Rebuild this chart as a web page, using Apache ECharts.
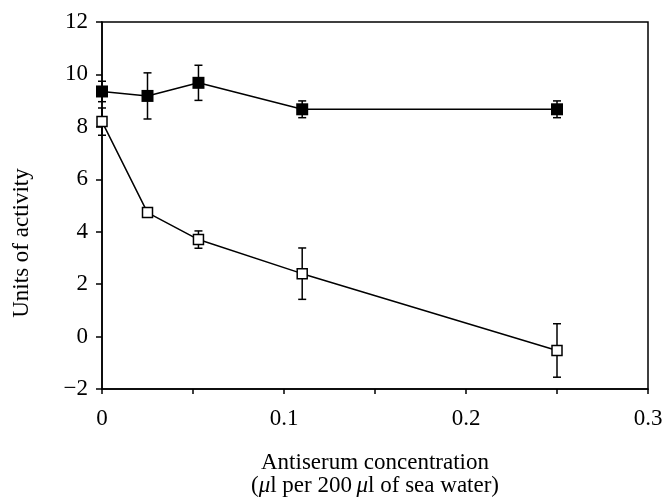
<!DOCTYPE html>
<html>
<head>
<meta charset="utf-8">
<script src="https://cdn.jsdelivr.net/npm/echarts@6/dist/echarts.min.js"></script>
<style>html,body{margin:0;padding:0;background:#fff}#c{width:664px;height:498px}</style>
</head>
<body>
<div id="c"></div>
<script>
const concentrations = [0, 0.025, 0.053, 0.11, 0.25];
const filledValues = [9.35, 9.18, 9.68, 8.67, 8.67];
const filledErrors = [0.39, 0.88, 0.67, 0.32, 0.32];
const openValues = [8.2, 4.73, 3.70, 2.40, -0.53];
const openErrors = [0.52, 0, 0.33, 0.98, 1.02];
const xTickLabels = ['0', '0.1', '0.2', '0.3'];
const yTickLabels = ['−2', '0', '2', '4', '6', '8', '10', '12'];
const yTitle = 'Units of activity';

const FONT = 'Liberation Serif';
const chart = echarts.init(document.getElementById('c'), null, {renderer: 'canvas'});

function errData(vals, errs) {
  return concentrations.map((x, i) => [x, vals[i] - errs[i], vals[i] + errs[i]]);
}
function errSeries(vals, errs) {
  return {
    type: 'custom',
    data: errData(vals, errs),
    z: 1,
    silent: true,
    renderItem: function (params, api) {
      const x = api.value(0), lo = api.value(1), hi = api.value(2);
      if (hi - lo < 1e-9) return null;
      const p1 = api.coord([x, lo]);
      const p2 = api.coord([x, hi]);
      const w = 4;
      const st = {stroke: '#000', lineWidth: 1.5};
      return {
        type: 'group',
        children: [
          {type: 'line', shape: {x1: p1[0], y1: p1[1], x2: p2[0], y2: p2[1]}, style: st},
          {type: 'line', shape: {x1: p1[0] - w, y1: p1[1], x2: p1[0] + w, y2: p1[1]}, style: st},
          {type: 'line', shape: {x1: p2[0] - w, y1: p2[1], x2: p2[0] + w, y2: p2[1]}, style: st}
        ]
      };
    }
  };
}

chart.setOption({
  animation: false,
  backgroundColor: '#fff',
  grid: {left: 102, right: 16, top: 22, bottom: 109, containLabel: false, outerBoundsMode: 'none',
         show: true, borderColor: '#000', borderWidth: 1.5, backgroundColor: 'transparent'},
  xAxis: {
    type: 'value', min: 0, max: 0.3, interval: 0.05,
    axisLine: {show: true, onZero: false, lineStyle: {color: '#000', width: 1.5}},
    axisTick: {show: true, inside: false, length: 5, lineStyle: {color: '#000', width: 1.5}},
    splitLine: {show: false},
    axisLabel: {
      color: '#000', fontFamily: FONT, fontSize: 23, margin: 18,
      formatter: function (v) {
        const k = Math.round(v * 10);
        if (Math.abs(v * 10 - k) > 1e-6) return '';
        return xTickLabels[k] !== undefined ? xTickLabels[k] : '';
      }
    },
    name: 'Antiserum concentration\n({i|μ}l per 200\u2009{i|μ}l of sea water)',
    nameLocation: 'middle', nameGap: 62,
    nameTextStyle: {
      color: '#000', fontFamily: FONT, fontSize: 23, lineHeight: 23,
      rich: {i: {fontStyle: 'italic', fontFamily: FONT, fontSize: 23, color: '#000', lineHeight: 23}}
    }
  },
  yAxis: {
    type: 'value', min: -2, max: 12, interval: 2,
    axisLine: {show: true, onZero: false, lineStyle: {color: '#000', width: 1.5}},
    axisTick: {show: true, inside: false, length: 6, lineStyle: {color: '#000', width: 1.5}},
    splitLine: {show: false},
    axisLabel: {
      color: '#000', fontFamily: FONT, fontSize: 23, margin: 14,
      formatter: function (v) { const i = Math.round((v + 2) / 2); return yTickLabels[i] || ''; }
    }
  },
  graphic: [{
    type: 'text', rotation: Math.PI / 2,
    x: 22, y: 243,
    style: {text: yTitle, fill: '#000', font: '23px "Liberation Serif"', textAlign: 'center', textVerticalAlign: 'middle'}
  }],
  series: [
    errSeries(filledValues, filledErrors),
    errSeries(openValues, openErrors),
    {
      type: 'line', z: 3,
      data: concentrations.map((x, i) => [x, filledValues[i]]),
      symbol: 'rect', symbolSize: 12, showAllSymbol: true,
      lineStyle: {color: '#000', width: 1.5},
      itemStyle: {color: '#000', borderColor: '#000', borderWidth: 0}
    },
    {
      type: 'line', z: 3,
      data: concentrations.map((x, i) => [x, openValues[i]]),
      symbol: 'rect', symbolSize: 10, showAllSymbol: true,
      lineStyle: {color: '#000', width: 1.5},
      itemStyle: {color: '#fff', borderColor: '#000', borderWidth: 1.5}
    }
  ]
});
</script>
</body>
</html>
